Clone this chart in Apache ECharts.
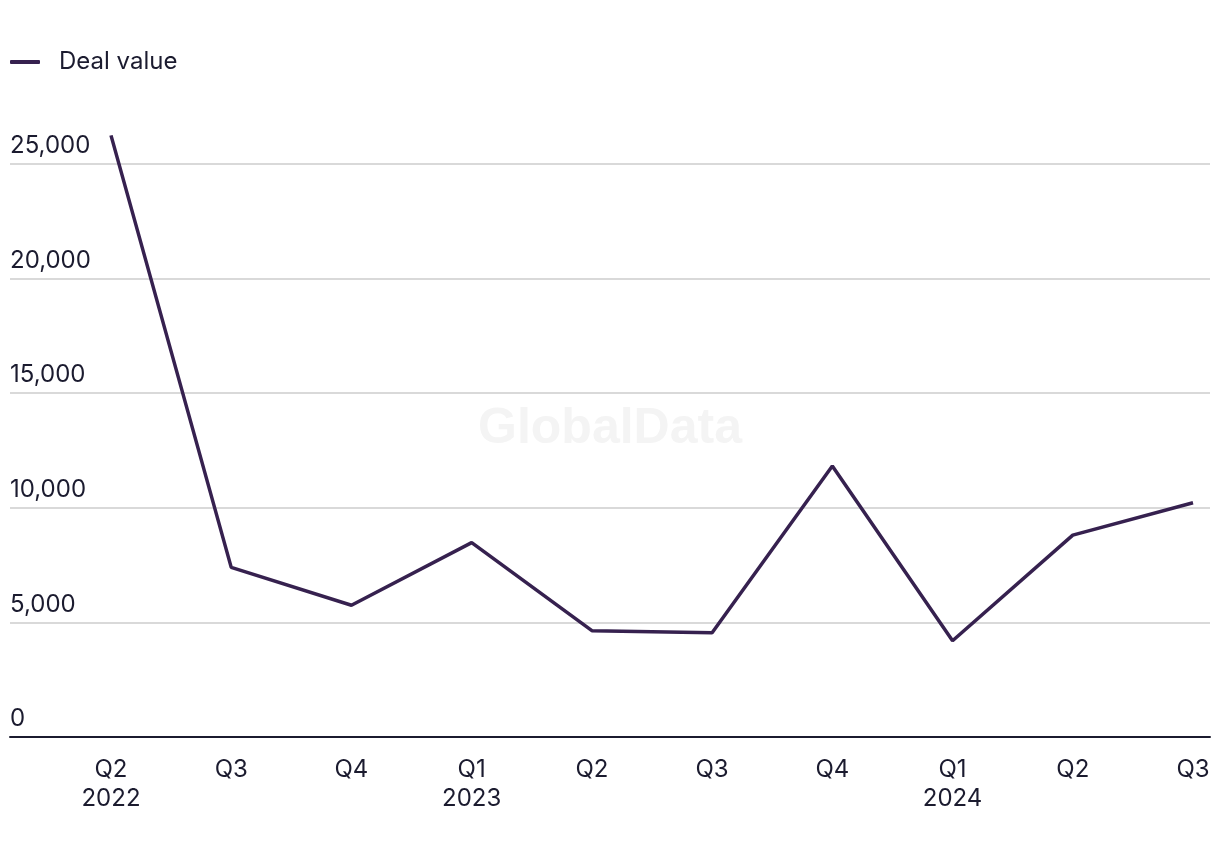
<!DOCTYPE html>
<html>
<head>
<meta charset="utf-8">
<script src="https://cdn.jsdelivr.net/npm/echarts@6/dist/echarts.min.js"></script>
<style>
html,body{margin:0;padding:0;background:#ffffff;}
#chart{width:1220px;height:858px;}
</style>
</head>
<body>
<div id="chart"></div>
<script>
var categories = ['Q2\n2022','Q3','Q4','Q1\n2023','Q2','Q3','Q4','Q1\n2024','Q2','Q3'];
var dealValue = [26250, 7400, 5750, 8480, 4640, 4550, 11820, 4200, 8810, 10220];
var seriesName = 'Deal value';
var yTicks = {min: 0, max: 25000, interval: 5000};

var textColor = '#1b1b2f';
var lineColor = '#36214f';
var fontFamily = 'Inter, "Noto Sans", sans-serif';

var chart = echarts.init(document.getElementById('chart'), null, {renderer: 'canvas'});
chart.setOption({
  animation: false,
  backgroundColor: '#ffffff',
  graphic: [{
    type: 'text',
    left: 'center',
    top: 404,
    silent: true,
    z: 0,
    style: {text: 'GlobalData', font: 'bold 50px "Liberation Sans", Arial, sans-serif', fill: '#f4f4f4'}
  }],
  legend: {
    left: 10, top: 50, padding: 0,
    itemWidth: 30, itemHeight: 4,
    icon: 'roundRect',
    textStyle: {color: textColor, fontSize: 24, fontFamily: fontFamily, padding: [0,0,0,14]},
    data: [seriesName]
  },
  grid: [
    {left: 10, right: 10, top: 164, bottom: 121, containLabel: false},
    {left: 111, right: 27, top: 164, bottom: 121, containLabel: false}
  ],
  xAxis: [
    {type: 'value', gridIndex: 0, min: 0, max: 1, show: true,
     axisLine: {show: true, onZero: false, lineStyle: {color: textColor, width: 2}},
     axisTick: {show: false}, axisLabel: {show: false}, splitLine: {show: false}},
    {type: 'category', gridIndex: 1, data: categories, boundaryGap: false,
     axisLine: {show: false}, axisTick: {show: false}, splitLine: {show: false},
     axisLabel: {color: textColor, fontSize: 24, fontFamily: fontFamily, lineHeight: 29, margin: 18, interval: 0}}
  ],
  yAxis: [
    {type: 'value', gridIndex: 0, min: yTicks.min, max: yTicks.max, interval: yTicks.interval,
     axisLine: {show: false}, axisTick: {show: false},
     splitLine: {show: true, lineStyle: {color: '#d9d9d9', width: 2}},
     axisLabel: {inside: true, margin: 0, verticalAlign: 'bottom', padding: [0,0,6,0],
       color: textColor, fontSize: 24, fontFamily: fontFamily,
       formatter: function(v){ return v.toLocaleString('en-US'); }}},
    {type: 'value', gridIndex: 1, min: yTicks.min, max: yTicks.max, interval: yTicks.interval, show: false,
     splitLine: {show: false}}
  ],
  series: [{
    name: seriesName,
    type: 'line',
    xAxisIndex: 1, yAxisIndex: 1,
    data: dealValue,
    clip: false,
    symbol: 'none',
    color: lineColor,
    lineStyle: {color: lineColor, width: 3.5},
    z: 5
  }]
});
</script>
</body>
</html>
